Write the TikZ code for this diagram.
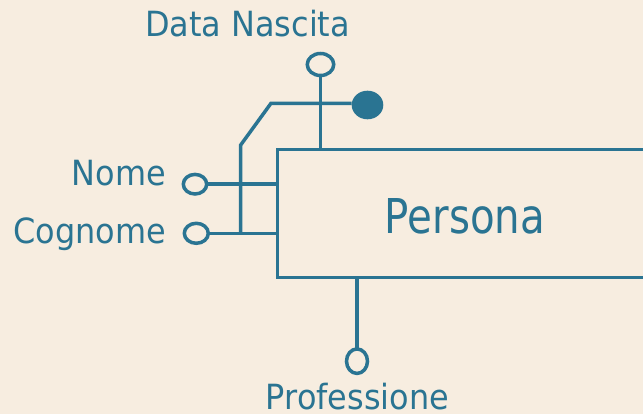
\documentclass[tikz,border=0pt]{standalone}
\usepackage{fontspec}
\setmainfont[FakeStretch=0.92]{DejaVu Sans}
\newfontfamily\persfont[FakeStretch=0.84]{DejaVu Sans}
\usetikzlibrary{shapes.geometric}
\definecolor{bgc}{RGB}{247,237,224}
\definecolor{teal1}{RGB}{42,116,146}
\tikzset{
  er/.style={draw=teal1, line width=3.5pt},
  attr/.style={ellipse, draw=teal1, line width=3.5pt, inner sep=0pt, outer sep=0pt},
  keyattr/.style={ellipse, fill=teal1, inner sep=0pt, outer sep=0pt},
  lbl/.style={text=teal1, inner sep=0pt, font=\fontsize{34.7}{40}\selectfont},
  ent/.style={draw=teal1, line width=3.5pt, rectangle, inner sep=0pt, outer sep=0pt}
}
\begin{document}
\begin{tikzpicture}[x=1pt,y=-1pt]
\useasboundingbox (0,0) rectangle (643,414);
\fill[bgc] (0,0) rectangle (643,414);
% entity
\node[ent, minimum width=382.7pt, minimum height=128.4pt, anchor=north west] (pers) at (277.3,149.3) {};
\node[text=teal1, inner sep=0pt, anchor=base, font=\persfont\fontsize{48}{52}\selectfont] (plbl) at (465,233.3) {Persona};
% attributes
\node[attr, minimum width=26.5pt, minimum height=22pt] (dn) at (320.5,64.5) {};
\node[keyattr, minimum width=31.6pt, minimum height=28.6pt] (id) at (367.5,105) {};
\node[attr, minimum width=23.4pt, minimum height=19.6pt] (nome) at (195,184.2) {};
\node[attr, minimum width=24pt, minimum height=20pt] (cog) at (196.3,233.3) {};
\node[attr, minimum width=21pt, minimum height=24.5pt] (prof) at (357,361.2) {};
% labels
\node[lbl, anchor=base] (dnl) at (247.5,36.7) {Data Nascita};
\node[lbl, anchor=base east] (nomel) at (166,185.7) {Nome};
\node[lbl, anchor=base east] (cogl) at (166,244) {Cognome};
\node[lbl, anchor=base] (profl) at (357.5,409.3) {Professione};
% connectors
\coordinate (k1) at (271,103.3);
\coordinate (k2) at (240.7,145);
\draw[er] (dn.south) -- (dn.south |- pers.north);
\draw[er] (nome.east) -- (nome.east -| pers.west);
\draw[er] (cog.east) -- (cog.east -| pers.west);
\draw[er] (prof.north) -- (prof.north |- pers.south);
\draw[er, line join=miter] (id.west |- k1) -- (k1) -- (k2) -- (k2 |- cog.east);
\end{tikzpicture}
\end{document}
